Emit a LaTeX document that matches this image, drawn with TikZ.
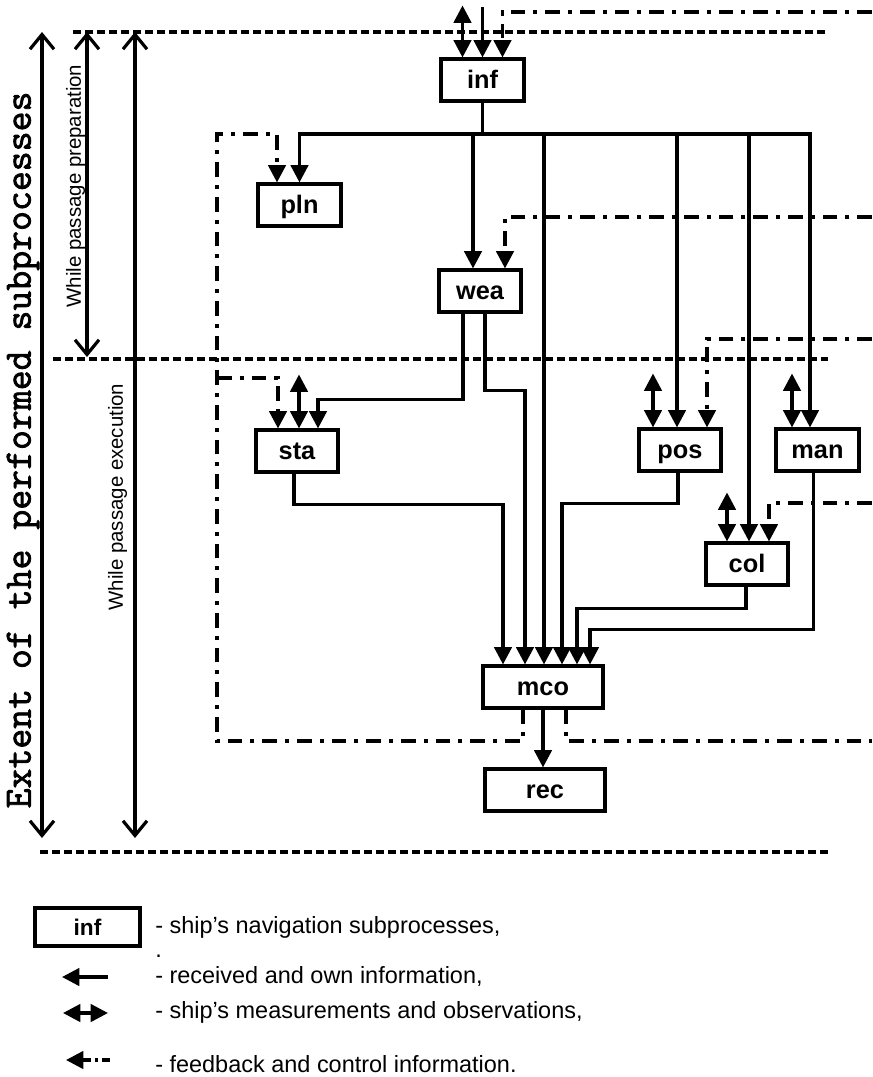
\documentclass[tikz,border=0pt]{standalone}
\usepackage{fontspec}
\setmainfont{Liberation Sans}
\newfontfamily\extentfont[FakeBold=2]{Latin Modern Mono}
\usetikzlibrary{arrows.meta,calc}

\tikzset{
  proc/.style={draw, line width=2.8pt, minimum width=62pt, minimum height=31pt, inner sep=0pt,
    text height=13pt, text depth=0pt, font=\fontsize{19}{19}\selectfont\bfseries},
  wideproc/.style={proc, minimum width=90pt},
  wire/.style={line width=2.5pt},
  info/.style={wire, -{Triangle[length=13pt,width=13pt]}},
  obs/.style={wire, {Triangle[length=13pt,width=13pt]}-{Triangle[length=13pt,width=13pt]}},
  fb/.style={line width=2.6pt, dash pattern=on 11pt off 6pt on 3pt off 6pt},
  fbarrow/.style={fb, -{Triangle[length=13pt,width=13pt]}},
  level/.style={line width=2.5pt, dash pattern=on 6pt off 3pt},
  span/.style={line width=2.4pt, {Straight Barb[length=11pt,width=18pt]}-{Straight Barb[length=11pt,width=18pt]}},
  caption/.style={font=\fontsize{15.3}{15.3}\selectfont, inner sep=0.75pt},
  keytext/.style={font=\fontsize{17.6}{17.6}\selectfont, inner sep=0pt, anchor=base west},
}

\begin{document}
\begin{tikzpicture}[x=0.75pt,y=0.75pt,yscale=-1,xscale=1]
\useasboundingbox (0,0) rectangle (872,1077);

% Level lines
\draw[level] (73,32) -- (828,32);
\draw[level] (53,359) -- (828,359);
\draw[level] (40,852) -- (828,852);

% Extent arrows
\draw[span] (42,32) -- (42,838);
\draw[span] (87,32) -- (87,357);
\draw[span] (135,32) -- (135,838);

% Text Node
\node[rotate=90, inner sep=0pt, font=\extentfont\fontsize{29}{29}\selectfont] (extent) at (23,450) {Extent of the performed subprocesses};
% Text Node
\node[caption, rotate=90] (prep) at (75.5,186) {While passage preparation};
% Text Node
\node[caption, rotate=90] (exec) at (117.5,497) {While passage execution};

% Subprocesses
\node[proc] (inf) at (482.5,80) {inf};
\node[proc] (pln) at (299.5,205) {pln};
\node[proc] (wea) at (480,291) {wea};
\node[proc] (sta) at (297,451) {sta};
\node[proc] (pos) at (680,450) {pos};
\node[proc] (man) at (817.5,450) {man};
\node[proc] (col) at (747,564) {col};
\node[wideproc] (mco) at (543,687) {mco};
\node[wideproc] (rec) at (545,790) {rec};

% Free ends
\coordinate (fbinf) at (872,12);
\coordinate (fbwea) at (872,217);
\coordinate (fbpos) at (872,339);
\coordinate (fbcol) at (872,503);
\coordinate (fbmco) at (872,741);
\coordinate (loop) at (217,741);
\coordinate (looptop) at (217,134);
\coordinate (loopsta) at (217,378);
\coordinate (bus) at (482.5,134);

% Into inf
\draw[obs] ($(inf.north)+(-20,-52)$) -- ($(inf.north)+(-20,0)$);
\draw[info] ($(inf.north)+(0,-50)$) -- (inf.north);
\draw[fbarrow] (fbinf) -| ($(inf.north)+(20,0)$);

% Received and own information
\draw[wire] (inf.south) -- (bus);
\draw[info] (bus) -| (pln.north);
\draw[info] (bus) -| ($(wea.north)+(-7,0)$);
\draw[info] (bus) -| ($(mco.north)+(1,0)$);
\draw[info] (bus) -| ($(pos.north)+(-3,0)$);
\draw[info] (bus) -| ($(col.north)+(2,0)$);
\draw[info] (bus) -| ($(man.north)+(-7.5,0)$);
\draw[info] ($(wea.south)+(-17,0)$) -- ++(0,86) -| ($(sta.north)+(21,0)$);
\draw[info] ($(wea.south)+(5,0)$) -- ++(0,77) -| ($(mco.north)+(-18,0)$);
\draw[info] ($(sta.south)+(-3,0)$) -- ++(0,31) -| ($(mco.north)+(-40,0)$);
\draw[info] ($(pos.south)+(-2,0)$) -- ++(0,31) -| ($(mco.north)+(19,0)$);
\draw[info] ($(col.south)+(-1,0)$) -- ++(0,22) -| ($(mco.north)+(34,0)$);
\draw[info] ($(man.south)+(-4,0)$) -- ++(0,157) -| ($(mco.north)+(47,0)$);
\draw[info] (mco.south) -- (mco.south |- rec.north);

% Measurements and observations
\draw[obs] ($(sta.north)+(2,-54)$) -- ($(sta.north)+(2,0)$);
\draw[obs] ($(pos.north)+(-27,-54)$) -- ($(pos.north)+(-27,0)$);
\draw[obs] ($(man.north)+(-25.5,-54)$) -- ($(man.north)+(-25.5,0)$);
\draw[obs] ($(col.north)+(-20,-49)$) -- ($(col.north)+(-20,0)$);

% Feedback and control
\draw[fbarrow] (fbwea) -| ($(wea.north)+(25,0)$);
\draw[fbarrow] (fbpos) -| ($(pos.north)+(27,0)$);
\draw[fbarrow] (fbcol) -| ($(col.north)+(22,0)$);
\draw[fb] ($(mco.south)+(23,0)$) |- (fbmco);
\draw[fbarrow] ($(mco.south)+(-20,0)$) |- (loop) -- (looptop) -| ($(pln.north)+(-22.5,0)$);
\draw[fbarrow] (loopsta) -| ($(sta.north)+(-19,0)$);

% Legend
\node[proc, minimum width=79pt, minimum height=28pt, text height=12pt, font=\fontsize{17}{17}\selectfont\bfseries] (key) at (87.5,927) {inf};
\node[keytext] (keyproc) at (155,933) {- ship’s navigation subprocesses,};
\node[keytext] (keydot) at (155,957) {.};
\node[keytext] (keyinfo) at (155,983) {- received and own information,};
\node[keytext] (keyobs) at (155,1018) {- ship’s measurements and observations,};
\node[keytext] (keyfb) at (155,1072) {- feedback and control information.};
\coordinate (infoa) at (108,977);
\coordinate (infob) at (62,977);
\coordinate (obsa) at (63,1013);
\coordinate (obsb) at (108,1013);
\coordinate (fba) at (110,1060);
\coordinate (fbb) at (66,1060);
\draw[info] (infoa) -- (infob);
\draw[obs] (obsa) -- (obsb);
\draw[line width=2.6pt, dash pattern=on 6pt off 3pt on 2.5pt off 3pt, -{Triangle[length=13pt,width=13pt]}] (fba) -- (fbb);

\end{tikzpicture}
\end{document}
